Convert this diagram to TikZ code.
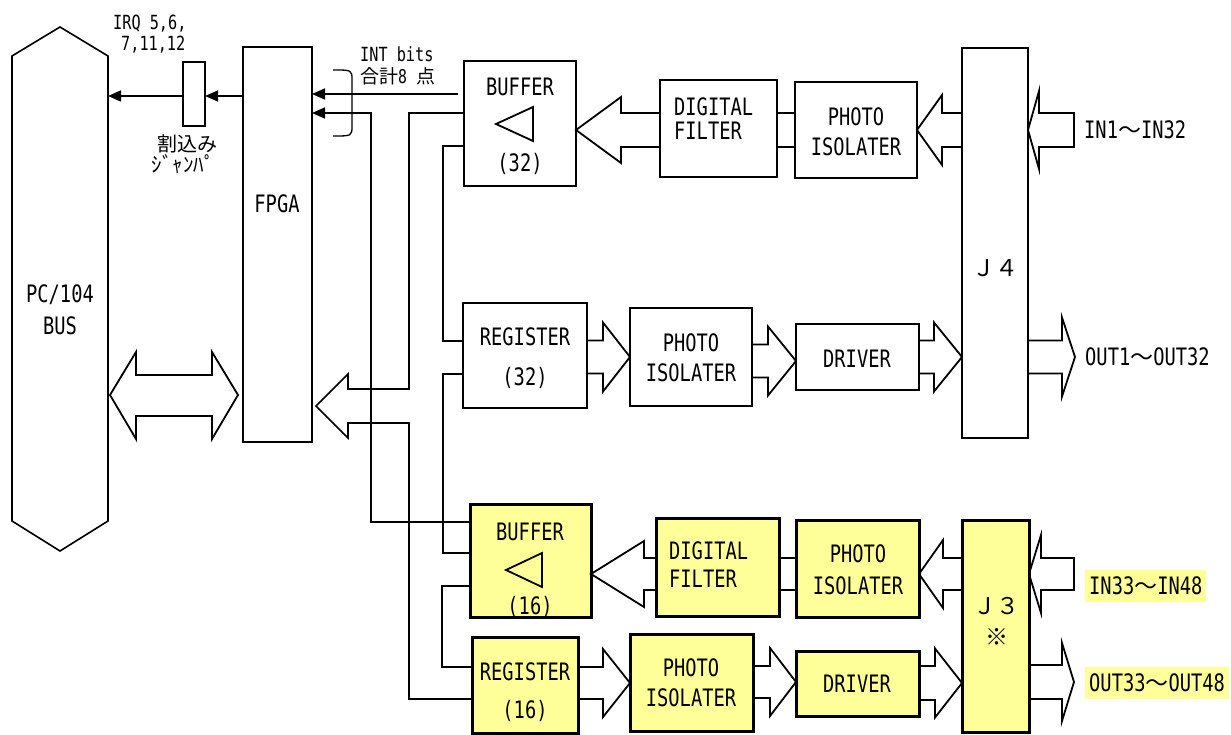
\documentclass[tikz,border=0pt]{standalone}
\usepackage{fontspec}
\newfontfamily\lat[FakeStretch=0.78]{DejaVu Sans Mono}
\newfontfamily\jp{Noto Sans CJK JP}
\usetikzlibrary{arrows.meta,calc}
\definecolor{yel}{HTML}{FFFF99}
\tikzset{
 blk/.style={draw,line width=1.8pt,inner sep=0pt,outer sep=0pt,anchor=north west},
 thinblk/.style={blk,line width=1.3pt},
 yblk/.style={blk,line width=3pt,fill=yel},
 lbl/.style={inner sep=0pt,text height=17.5pt,text depth=0pt,font=\lat\fontsize{24}{24}\selectfont},
 small/.style={inner sep=0pt,text height=14.2pt,text depth=0pt,font=\lat\fontsize{19.5}{19.5}\selectfont},
 jlbl/.style={inner sep=0pt,font=\jp\fontsize{19}{19}\selectfont},
 wire/.style={line width=1.6pt},
 fat/.style={line width=1.8pt},
 int/.style={wire,-{Triangle[length=13pt,width=11pt]}},
 hl/.style={lbl,fill=yel,inner xsep=4pt,inner ysep=7.5pt,anchor=west},
}
\newcommand\blkat[6]{\node[#1,minimum width={#5-#3},minimum height={#6-#4}] (#2) at (#3,#4) {};}
% #1 + (points left) or - (points right), #2 tail, #3 tip, #4 head length, #5 shaft half, #6 head half, #7 extra
\newcommand\fatgen[7]{\draw[fat] let \p1=(#2), \p2=(#3) in
 (\x1,\y2+#5pt) -- (\x2#1#4pt,\y2+#5pt) -- (\x2#1#4pt,\y2+#6pt) -- (\x2,\y2) --
 (\x2#1#4pt,\y2-#6pt) -- (\x2#1#4pt,\y2-#5pt) -- (\x1,\y2-#5pt) #7;}
\newcommand\wv{{\jp\fontsize{23}{23}\selectfont ～}}
\begin{document}
\begin{tikzpicture}[x=1pt,y=-1pt]
\useasboundingbox (0,0) rectangle (1231,735);
% PC/104 bus
\draw[wire] (12,56) -- (60,27) -- (108,56) -- (108,521) -- (60,551) -- (12,521) -- cycle;
\coordinate (busE) at (108,300);
\node[lbl] (bust1) at (60,294) {PC/104};
\node[lbl] (bust2) at (60,326) {BUS};
% boxes
\blkat{blk}{fpga}{243}{47}{312}{442}
\node[lbl] (fpgat) at (277,204) {FPGA};
\blkat{blk,line width=1.6pt}{jmp}{183}{62}{205}{126}
\blkat{blk}{buf32}{464}{61}{576}{186}
\blkat{thinblk}{df32}{660}{80}{777}{177}
\blkat{blk}{pi32}{795}{82}{917}{178}
\blkat{blk}{j4}{962}{48}{1028}{438}
\blkat{blk}{reg32}{463}{303}{587}{408}
\blkat{blk}{pi32b}{630}{308}{752}{406}
\blkat{blk}{drv32}{796}{324}{919}{390}
\blkat{yblk}{buf16}{470}{504}{591}{617}
\blkat{yblk}{df16}{656}{518}{779}{616}
\blkat{yblk}{pi16}{796}{520}{919}{617}
\blkat{yblk}{j3}{962}{520}{1029}{732}
\blkat{yblk}{reg16}{472}{637}{578}{733}
\blkat{yblk}{pi16b}{630}{634}{753}{731}
\blkat{yblk}{drv16}{796}{651}{919}{716}
% box labels
\node[lbl] (buf32t) at (520,87) {BUFFER};
\draw[fat] (496,124) -- (533,107) -- (533,141) -- cycle;
\node[lbl] (buf32n) at (520,163) {(32)};
\node[lbl,anchor=west] (df32t1) at (674,107) {DIGITAL};
\node[lbl,anchor=west] (df32t2) at (674,131) {FILTER};
\node[lbl] (pi32t1) at (856,117) {PHOTO};
\node[lbl] (pi32t2) at (856,147) {ISOLATER};
\node[inner sep=0pt,font=\jp\fontsize{23}{23}\selectfont] (j4t) at (995,268) {Ｊ４};
\node[lbl] (reg32t) at (525,337) {REGISTER};
\node[lbl] (reg32n) at (525,377) {(32)};
\node[lbl] (pi32bt1) at (691,343) {PHOTO};
\node[lbl] (pi32bt2) at (691,373) {ISOLATER};
\node[lbl] (drv32t) at (857,359) {DRIVER};
\node[lbl] (buf16t) at (530,532) {BUFFER};
\draw[fat] (506,570) -- (542,553) -- (542,587) -- cycle;
\node[lbl] (buf16n) at (530,606) {(16)};
\node[lbl,anchor=west] (df16t1) at (669,551) {DIGITAL};
\node[lbl,anchor=west] (df16t2) at (669,579) {FILTER};
\node[lbl] (pi16t1) at (858,554) {PHOTO};
\node[lbl] (pi16t2) at (858,586) {ISOLATER};
\node[inner sep=0pt,font=\jp\fontsize{23}{23}\selectfont] (j3t) at (996,606) {Ｊ３};
\node[inner sep=0pt,font=\jp\fontsize{23}{23}\selectfont] (j3m) at (997,637) {※};
\node[lbl] (reg16t) at (525,672) {REGISTER};
\node[lbl] (reg16n) at (525,710) {(16)};
\node[lbl] (pi16bt1) at (691,668) {PHOTO};
\node[lbl] (pi16bt2) at (691,698) {ISOLATER};
\node[lbl] (drv16t) at (857,684) {DRIVER};
% outside labels
\node[small,anchor=west] (irq1) at (113,22) {IRQ 5,6,};
\node[small,anchor=west] (irq2) at (121,43) {7,11,12};
\node[jlbl,font=\jp\fontsize{20}{20}\selectfont] (wari) at (187,144) {割込み};
\node[jlbl,font=\jp\fontsize{21}{21}\selectfont] (jmpr) at (183,164) {ｼﾞｬﾝﾊﾟ};
\node[small,anchor=west] (intb) at (360,54) {INT bits};
\node[jlbl,anchor=west] (gokei) at (360,76) {合計{\lat 8 }点};
\node[lbl,anchor=west] (in1t) at (1084,130) {IN1\wv IN32};
\node[lbl,anchor=west] (out1t) at (1085,357) {OUT1\wv OUT32};
\node[hl] (in2t) at (1085,586) {IN33\wv IN48};
\node[hl] (out2t) at (1085,683) {OUT33\wv OUT48};
% brace
\draw[line width=1.3pt] (333,70) .. controls (352,70) .. (352,80) -- (352,126) .. controls (352,136) .. (333,136);
% IRQ arrows
\draw[int] (fpga.west|-0,96) -- (jmp.east|-0,96);
\draw[int] (jmp.west|-0,96) -- (busE|-0,96);
% INT arrows
\coordinate (int1s) at (458,94);
\draw[int] (int1s) -- (fpga.east|-0,94);
\draw[int] (buf16.west|-0,522) -| (371,113) -- (fpga.east|-0,113);
% internal bus wires
\coordinate (fatL) at (316,406);
\draw[wire] (buf32.west|-0,113) -| (409,389) -- (348,389) -- (348,374) -- (fatL) -- (348,438) -- (348,423) -- (409,423) |- (reg16.west|-0,699);
\draw[wire] (buf32.west|-0,146) -| (443,341) -- (reg32.west|-0,341);
\draw[wire] (reg32.west|-0,374) -| (443,553) -- (buf16.west|-0,553);
\draw[wire] (buf16.west|-0,586) -| (442,667) -- (reg16.west|-0,667);
% double arrow bus <-> FPGA
\draw[fat] ($(busE|-0,395)+(2,0)$) -- ++(26,-43) -- ++(0,23) -- ++(76,0) -- ++(0,-23) -- ++(26,43)
  -- ++(-26,44) -- ++(0,-23) -- ++(-76,0) -- ++(0,23) -- cycle;
% fat arrows, top row
\fatgen{+}{df32.west}{buf32.east|-0,130}{45}{17}{33}{}
\draw[fat] (df32.east|-0,113) -- (pi32.west|-0,113);
\draw[fat] (df32.east|-0,147) -- (pi32.west|-0,147);
\fatgen{+}{j4.west}{pi32.east|-0,130}{25}{17}{35}{}
\coordinate (in1) at (1074,130);
\fatgen{+}{in1}{j4.east|-0,130}{11}{17}{39}{-- cycle}
% second row
\fatgen{-}{reg32.east}{pi32b.west|-0,357}{27}{16.5}{34.5}{}
\fatgen{-}{pi32b.east}{drv32.west|-0,361}{28}{16.5}{34.5}{}
\fatgen{-}{drv32.east}{j4.west|-0,357}{28}{16.5}{34.5}{}
\coordinate (out1tip) at (1075,357);
\fatgen{-}{j4.east}{out1tip}{13}{16.5}{39.5}{}
% third row
\fatgen{+}{df16.west}{buf16.east|-0,574}{53}{16}{33}{}
\draw[fat] (df16.east|-0,558) -- (pi16.west|-0,558);
\draw[fat] (df16.east|-0,590) -- (pi16.west|-0,590);
\fatgen{+}{j3.west}{pi16.east|-0,574}{24}{16}{34}{}
\coordinate (in2) at (1074,574);
\fatgen{+}{in2}{j3.east|-0,574}{12}{16}{39}{-- cycle}
% fourth row
\fatgen{-}{reg16.east}{pi16b.west|-0,683}{27}{16}{34}{}
\fatgen{-}{pi16b.east}{drv16.west|-0,682}{26}{16}{34}{}
\fatgen{-}{drv16.east}{j3.west|-0,683}{27}{17}{34.5}{}
\coordinate (out2tip) at (1074,682);
\fatgen{-}{j3.east}{out2tip}{12}{17}{39}{}
\end{tikzpicture}
\end{document}
